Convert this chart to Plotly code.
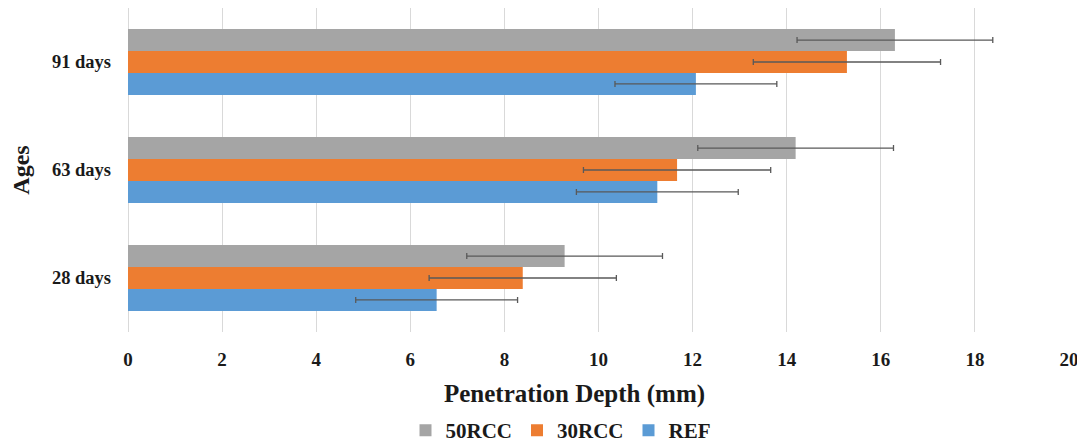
import plotly.graph_objects as go

ages = ["28 days", "63 days", "91 days"]
ref_vals = [6.56, 11.25, 12.07]
rcc30_vals = [8.39, 11.67, 15.28]
rcc50_vals = [9.28, 14.19, 16.30]
ref_err = [1.72, 1.72, 1.72]
rcc30_err = [1.99, 1.99, 1.99]
rcc50_err = [2.08, 2.08, 2.08]
x_ticks = [0, 2, 4, 6, 8, 10, 12, 14, 16, 18, 20]

FONT = "Liberation Serif"
series = [
    ("REF", ref_vals, ref_err, "#5B9BD5"),
    ("30RCC", rcc30_vals, rcc30_err, "#ED7D31"),
    ("50RCC", rcc50_vals, rcc50_err, "#A5A5A5"),
]

fig = go.Figure()
for name, vals, err, color in series:
    fig.add_trace(go.Bar(
        y=ages, x=vals, name=name, orientation="h",
        marker=dict(color=color, line=dict(width=0)),
        error_x=dict(type="data", array=err, visible=True,
                     color="#595959", thickness=1.3, width=3),
    ))

# page body has an 8px default margin, so the figure is offset by (8, 8)
fig.update_layout(
    width=1077, height=443,
    margin=dict(l=120, r=16, t=0, b=119),
    paper_bgcolor="white", plot_bgcolor="white",
    barmode="group", bargap=0.39, bargroupgap=0,
    font=dict(family=FONT, color="#1a1a1a"),
    xaxis=dict(
        range=[0, 20], tickvals=x_ticks, showgrid=True, automargin=False,
        gridcolor="#D9D9D9", gridwidth=1, zeroline=True,
        zerolinecolor="#D9D9D9", zerolinewidth=1, showline=False,
        ticks="", ticklabelstandoff=14,
        tickfont=dict(family=FONT, size=19, color="#1a1a1a", weight="bold"),
    ),
    yaxis=dict(
        range=[-0.5, 2.5], showgrid=False, showline=False, ticks="",
        automargin=False, ticklabelstandoff=16,
        tickfont=dict(family=FONT, size=18.5, color="#1a1a1a", weight="bold"),
        title=dict(text="<b>Ages</b>", standoff=22,
                   font=dict(family=FONT, size=24, color="#1a1a1a")),
    ),
    legend=dict(
        orientation="h", xref="container", yref="container",
        x=0.513, xanchor="center", y=0.0, yanchor="bottom",
        traceorder="reversed",
        font=dict(family=FONT, size=21, color="#1a1a1a", weight="bold"),
        itemwidth=30,
    ),
    annotations=[dict(
        text="<b>Penetration Depth (mm)</b>", xref="paper", yref="paper",
        x=0.474, y=-0.19, xanchor="center", yanchor="middle", showarrow=False,
        font=dict(family=FONT, size=25, color="#1a1a1a"),
    )],
)

fig.write_html("out.html")
